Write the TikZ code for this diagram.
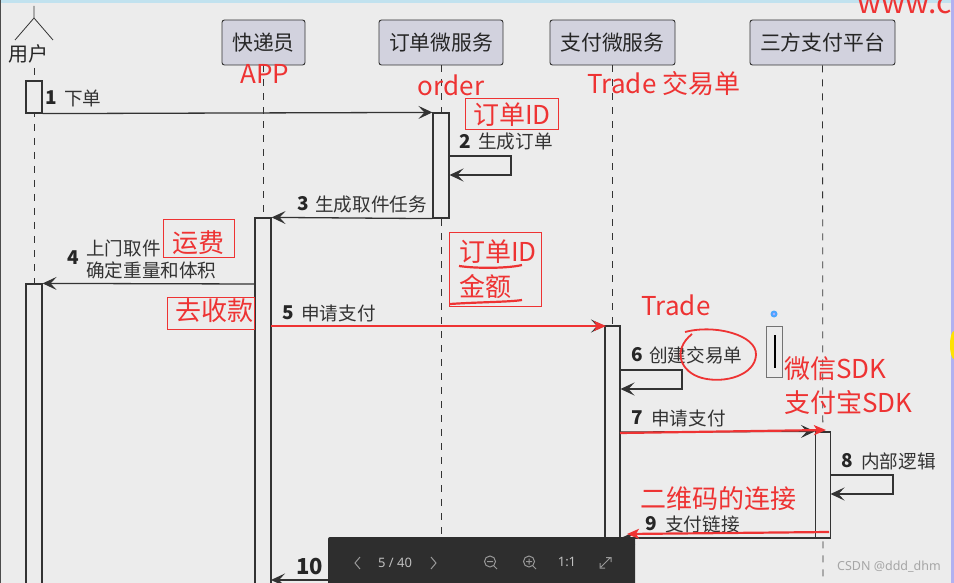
\documentclass[tikz,border=0pt]{standalone}
\usepackage{fontspec}
\setmainfont{Noto Sans CJK SC}
\newfontfamily\sansf{Noto Sans}
\usetikzlibrary{arrows.meta}
\definecolor{bgc}{HTML}{ECECEC}
\definecolor{inkc}{HTML}{333333}
\definecolor{redc}{HTML}{EE3333}
\definecolor{partc}{HTML}{D2D2DE}
\definecolor{barc}{HTML}{2E2E2E}
\tikzset{
  x=1pt,y=-1pt,
  part/.style={draw=inkc,fill=partc,rounded corners=2.5pt,line width=.9pt,inner sep=0pt,minimum height=45pt,font=\fontsize{20.8}{21}\selectfont,text=black!85},
  life/.style={draw=inkc,line width=.8pt,dash pattern=on 7pt off 7pt},
  act/.style={draw=inkc,fill=bgc,line width=1.2pt},
  msg/.style={draw=inkc,line width=1.3pt,-{Stealth[length=14pt,width=13pt,inset=6pt]}},
  redmsg/.style={draw=redc,line width=2.2pt,-{Stealth[length=12pt,width=10pt,inset=3pt]}},
  num/.style={font=\fontsize{19}{19}\selectfont\bfseries,text=black!85,inner sep=0pt},
  lab/.style={font=\fontsize{18.6}{22}\selectfont,text=black!80,inner sep=0pt,align=left},
  redt/.style={font=\fontsize{26}{35}\selectfont,text=redc,inner sep=0pt,align=left},
  redbox/.style={draw=redc,line width=.8pt},
  ui/.style={font=\sansf\fontsize{13}{13}\selectfont,text=black!25,inner sep=0pt},
  uil/.style={draw=black!40,line width=1pt}
}
\begin{document}
\begin{tikzpicture}
\useasboundingbox (0,0) rectangle (954,583);
\fill[bgc] (0,0) rectangle (954,583);
\fill[cyan!20!bgc] (0,0) rectangle (954,3);
\fill[black!70] (0,0) rectangle (1.2,583);
\fill[blue!25!bgc] (951,0) rectangle (954,583);
\fill[yellow!85!orange] (954,345) ellipse (4 and 14);

% participants
\coordinate (uhead) at (34,18);
\coordinate (utop) at (34,6);
\coordinate (ull) at (15,40);
\coordinate (ulr) at (53,40);
\draw[inkc,line width=.8pt] (utop) -- (uhead) (ull) -- (uhead) -- (ulr);
\node[font=\fontsize{20}{20}\selectfont,text=black!85,inner sep=0pt] (user) at (29,54) {用户};
\node[part,minimum width=83pt] (kd) at (263.5,42.5) {快递员};
\node[part,minimum width=124pt] (dd) at (441,42.5) {订单微服务};
\node[part,minimum width=125pt] (zf) at (612.5,42.5) {支付微服务};
\node[part,minimum width=145pt] (sf) at (822.5,42.5) {三方支付平台};

% life lines
\coordinate (ue) at (34,583); \coordinate (ke) at (263.5,583);
\coordinate (de) at (441,583); \coordinate (ze) at (612.5,583); \coordinate (se) at (823,583);
\draw[life] (34,68) -- (ue);
\draw[life] (kd.south) -- (ke);
\draw[life] (dd.south) -- (de);
\draw[life] (zf.south) -- (ze);
\draw[life] (sf.south) -- (se);

% activations
\node[act,minimum width=16pt,minimum height=32pt,inner sep=0pt] (a1) at (34,97) {};
\node[act,minimum width=16pt,minimum height=330pt,inner sep=0pt] (a2) at (34,449) {};
\node[act,minimum width=16pt,minimum height=105pt,inner sep=0pt] (b1) at (441,165.5) {};
\node[act,minimum width=16pt,minimum height=400pt,inner sep=0pt] (k1) at (263,418) {};
\node[act,minimum width=15pt,minimum height=300pt,inner sep=0pt] (z1) at (612.5,476) {};
\node[act,minimum width=15pt,minimum height=106pt,inner sep=0pt] (s1) at (823,485) {};

% messages
\draw[msg] (a1.south east) -- (b1.north west);
\coordinate (m2a) at (449,156); \coordinate (m2b) at (511,156); \coordinate (m2c) at (511,175); \coordinate (m2d) at (449.5,175);
\draw[msg] (m2a) -- (m2b) -- (m2c) -- (m2d);
\draw[msg] (b1.south west) -- (k1.north east);
\coordinate (m4a) at (255,284);
\draw[msg] (m4a) -- (a2.north east);
\coordinate (m6a) at (620,370); \coordinate (m6b) at (682,370); \coordinate (m6c) at (682,389); \coordinate (m6d) at (620.5,389);
\draw[msg] (m6a) -- (m6b) -- (m6c) -- (m6d);
\coordinate (m7a) at (620,432);
\draw[msg] (m7a) -- (s1.north west);
\coordinate (m8a) at (830,475); \coordinate (m8b) at (893,475); \coordinate (m8c) at (893,494); \coordinate (m8d) at (830.5,494);
\draw[msg] (m8a) -- (m8b) -- (m8c) -- (m8d);
\coordinate (m9a) at (830,538); \coordinate (m9b) at (621,538);
\draw[msg] (m9a) -- (m9b);
\coordinate (m10a) at (330,580); \coordinate (m10b) at (271,580);
\draw[msg] (m10a) -- (m10b);
\coordinate (m5a) at (605,326); \coordinate (m5b) at (271,326);
\draw[msg] (m5b) -- (m5a);

% message labels
\node[num,anchor=west] at (45,98) {1}; \node[lab,anchor=west] at (64,98) {下单};
\node[num,anchor=west] at (459,141) {2}; \node[lab,anchor=west] at (478,141) {生成订单};
\node[num,anchor=west] at (297,204) {3}; \node[lab,anchor=west] at (315,204) {生成取件任务};
\node[num,anchor=west] at (67,258) {4}; \node[lab,anchor=west] at (86,259) {上门取件\\确定重量和体积};
\node[num,anchor=west] at (282,313) {5}; \node[lab,anchor=west] at (301,313) {申请支付};
\node[num,anchor=west] at (631,355) {6}; \node[lab,anchor=west] at (649,355) {创建交易单};
\node[num,anchor=west] at (631,418) {7}; \node[lab,anchor=west] at (651,418) {申请支付};
\node[num,anchor=west] at (841,461) {8}; \node[lab,anchor=west] at (861,461) {内部逻辑};
\node[num,anchor=west] at (645,524) {9}; \node[lab,anchor=west] at (665,524) {支付链接};
\node[num,anchor=west,font=\fontsize{22}{22}\selectfont\bfseries] at (296,567) {10};

% red annotations
\draw[redbox] (163,219) rectangle (234,257);
\draw[redbox] (167,297) rectangle (254,329);
\draw[redbox] (465,98) rectangle (558,129);
\draw[redbox] (449,232) rectangle (541,306);
\node[redt] (t1) at (265,74) {APP};
\node[redt] at (451,85) {order};
\node[redt] at (664,84) {Trade 交易单};
\node[redt] at (512,115) {订单ID};
\node[redt,anchor=north west] at (459,240) {订单ID\\金额};
\node[redt] at (198,243) {运费};
\node[redt] at (214,311) {去收款};
\node[redt] at (676,305) {Trade};
\node[redt,anchor=west] at (784,369) {微信SDK};
\node[redt,anchor=west] at (784,403) {支付宝SDK};
\node[redt] at (718,499) {二维码的连接};
\node[redt,font=\fontsize{30}{30}\selectfont,anchor=west] at (857,5) {www.c};
\draw[redc,line width=2.2pt] (459,266) .. controls (480,269) and (510,268) .. (522,265);
\draw[redc,line width=2.2pt] (450,304) .. controls (480,302) and (510,302) .. (522,300);
\draw[redc,line width=1.8pt] (685,332) .. controls (715,324) and (757,335) .. (756,355) .. controls (755,375) and (725,384) .. (702,378) .. controls (680,372) and (672,350) .. (692,334);
\draw[redmsg] (271,326) -- (606,326);
\draw[redmsg] (620,433) -- (826,430);
\draw[redmsg] (829,532) -- (627,534);

% small stray box
\draw[black!55,line width=.9pt] (766,326) rectangle (782,377);
\draw[black,line width=1.1pt] (775,335) -- (775,368);
\fill[blue!50!cyan!70] (774,314) circle (3.5);
\fill[white!70!blue] (774,314) circle (1.4);

% viewer toolbar
\fill[barc,rounded corners=2pt] (328,537) rectangle (635,590);
\draw[uil] (360,557) -- (355,563) -- (360,569);
\node[ui] at (395,563) {5 / 40};
\draw[uil] (431,557) -- (436,563) -- (431,569);
\draw[uil] (490,561.5) circle (5.5) (487,561.5) -- (493,561.5) (494,566) -- (497,569);
\draw[uil] (529,561.5) circle (5.5) (526,561.5) -- (532,561.5) (529,558.5) -- (529,564.5) (533,566) -- (536,569);
\node[ui] at (567,562) {1:1};
\draw[uil] (601,567) -- (610,558) (606,557.5) -- (611,557.5) -- (611,562) (600,563) -- (600,568) -- (605,568);
\node[font=\sansf\fontsize{12.5}{12.5}\selectfont,text=black!35,inner sep=0pt] at (889,567) {CSDN @ddd\_dhm};
\end{tikzpicture}
\end{document}
